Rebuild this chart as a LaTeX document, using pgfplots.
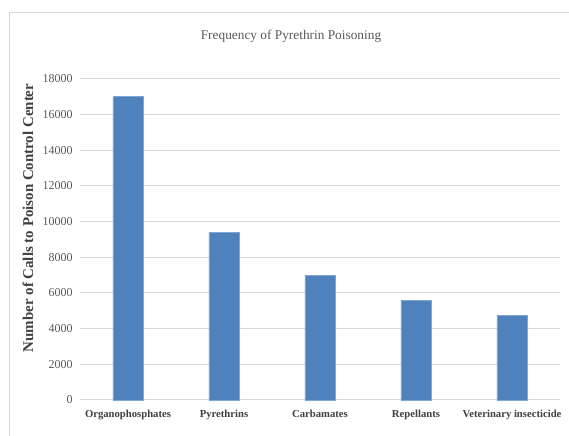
\documentclass[border=0pt]{standalone}
\usepackage{pgfplots}
\pgfplotsset{compat=1.18}
\usepackage{fontspec}
\setmainfont{Liberation Serif}
\definecolor{barblue}{HTML}{4F81BD}
\definecolor{baredge}{HTML}{7EA6D6}
\definecolor{gridgray}{HTML}{D9D9D9}
\definecolor{txtgray}{HTML}{595959}
\definecolor{lblgray}{HTML}{404040}
\begin{document}
\begin{tikzpicture}[x=0.75pt,y=0.75pt]
\useasboundingbox (0,0) rectangle (569,436);
\fill[white] (0,0) rectangle (569,436);
\draw[gridgray, line width=0.9pt] (9.5,-10) -- (9.5,423.5) -- (580,423.5);
\node[txtgray, font=\fontsize{10}{12}\selectfont] at (291,400) {Frequency of Pyrethrin Poisoning};
\node[lblgray, rotate=90, font=\bfseries\fontsize{11.2}{13}\selectfont] at (28,218) {Number of Calls to Poison Control Center};
\begin{axis}[
  at={(60pt,27pt)}, anchor=south west,
  width=360pt, height=240.75pt, scale only axis,
  xmin=-0.5, xmax=4.5, ymin=0, ymax=18000,
  ytick={0,2000,...,18000},
  xtick={0,1,2,3,4},
  xticklabels={Organophosphates,Pyrethrins,Carbamates,Repellants,Veterinary insecticide},
  axis line style={draw=none},
  major tick length=0pt,
  ymajorgrids, grid style={gridgray, line width=0.75pt},
  yticklabel style={txtgray, font=\fontsize{9}{10}\selectfont, xshift=-2pt},
  xticklabel style={lblgray, font=\bfseries\fontsize{8}{10}\selectfont, yshift=-4pt},
  /pgf/number format/assume math mode=true,
  scaled y ticks=false,
  yticklabel={\pgfmathprintnumber[fixed,1000 sep={}]{\tick}},
  clip=false,
]
\addplot[ybar, bar width=22.5pt, fill=barblue, draw=baredge, line width=0.5pt] coordinates {
  (0,17000) (1,9400) (2,7000) (3,5600) (4,4750)
};
\end{axis}
\end{tikzpicture}
\end{document}
